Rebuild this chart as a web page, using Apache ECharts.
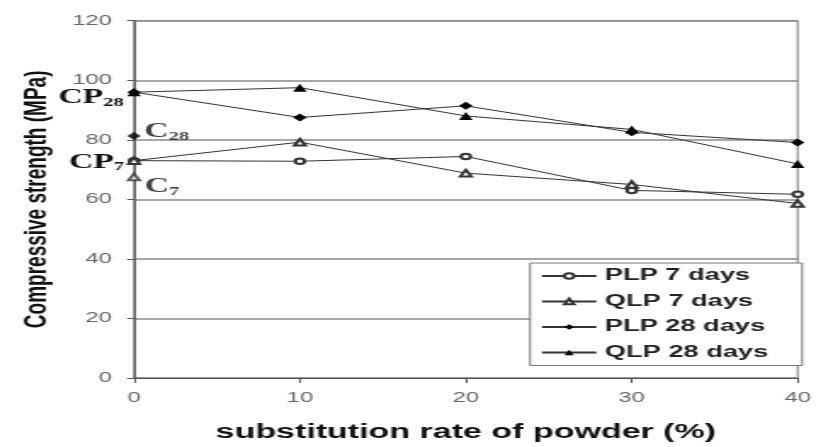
<!DOCTYPE html>
<html>
<head>
<meta charset="utf-8">
<script src="https://cdn.jsdelivr.net/npm/echarts@6/dist/echarts.min.js"></script>
<style>
  html, body { margin: 0; padding: 0; background: #fff; overflow: hidden; }
  #wrap { width: 816px; height: 447px; overflow: hidden; }
  #chart { width: 480px; height: 447px; transform: scaleX(1.7); transform-origin: 0 0; }
</style>
</head>
<body>
<div id="wrap"><div id="chart"></div></div>
<script>
// ---- data ----
const rates = [0, 10, 20, 30, 40];            // substitution rate of powder (%)
const plp7  = [73, 72.8, 74.4, 63, 61.7];     // PLP 7 days
const qlp7  = [73, 79.2, 68.8, 65, 58.6];     // QLP 7 days
const plp28 = [96, 87.5, 91.4, 82.5, 79.1];   // PLP 28 days
const qlp28 = [96, 97.5, 88, 83.5, 71.9];     // QLP 28 days
const c28 = 81.3;                             // control C28
const c7  = 67.5;                             // control C7
const seriesNames = ['PLP 7 days', 'QLP 7 days', 'PLP 28 days', 'QLP 28 days'];
const yMin = 0, yMax = 120, yStep = 20;
const xMin = 0, xMax = 40, xStep = 10;

const serif = 'Liberation Serif, Times New Roman, serif';
const sans = 'Liberation Sans, Arial, sans-serif';
function pairs(vals) { return rates.map((r, i) => [r, vals[i]]); }
function subLabel(main, sub, pos, offset) {
  return {
    show: true, position: pos, distance: 2, offset: offset,
    formatter: '{m|' + main + '}{s|' + sub + '}',
    rich: {
      m: { fontFamily: serif, fontWeight: 'bold', fontSize: 20, color: '#111' },
      s: { fontFamily: serif, fontWeight: 'bold', fontSize: 12, color: '#111', padding: [9, 0, 0, 0] }
    }
  };
}

const lineStyle = { color: '#333', width: 1 };
function withFirstLabel(vals, label) {
  const d = pairs(vals);
  d[0] = { value: d[0], label: label };
  return d;
}

const chart = echarts.init(document.getElementById('chart'));
chart.setOption({
  animation: false,
  backgroundColor: '#fff',
  grid: { left: 78.8, right: 8.8, top: 20.7, bottom: 66, show: true, borderColor: '#777', borderWidth: 1 },
  legend: {
    data: seriesNames,
    orient: 'vertical',
    left: 311.8, top: 263,
    width: 144,
    backgroundColor: '#fff',
    borderColor: '#777', borderWidth: 1,
    padding: [5, 20, 5, 6],
    itemWidth: 32, itemHeight: 7, itemGap: 9.5,
    textStyle: { fontFamily: sans, fontWeight: 'bold', fontSize: 16, color: '#222' }
  },
  xAxis: {
    type: 'value', min: xMin, max: xMax, interval: xStep,
    name: 'substitution rate of powder (%)',
    nameLocation: 'middle', nameGap: 44,
    nameTextStyle: { fontFamily: sans, fontWeight: 'bold', fontSize: 20, color: '#111' },
    axisLine: { lineStyle: { color: '#555', width: 1 } },
    axisTick: { show: true, length: 5, lineStyle: { color: '#555' } },
    axisLabel: { fontFamily: sans, fontSize: 14, color: '#666', margin: 13 },
    splitLine: { show: false }
  },
  yAxis: {
    type: 'value', min: yMin, max: yMax, interval: yStep,
    name: 'Compressive strength (MPa)',
    nameLocation: 'middle', nameGap: 48, nameRotate: 90,
    nameTextStyle: { fontFamily: sans, fontWeight: 'bold', fontSize: 19, color: '#111' },
    axisLine: { show: true, lineStyle: { color: '#555', width: 1 } },
    axisTick: { show: true, length: 4, lineStyle: { color: '#555' } },
    axisLabel: { fontFamily: sans, fontSize: 14, color: '#666', margin: 13 },
    splitLine: { show: true, lineStyle: { color: '#8a8a8a', width: 1.5 } }
  },
  series: [
    { name: seriesNames[0], type: 'line', data: withFirstLabel(plp7, subLabel('CP', '7', 'left', [0, 2])),
      symbol: 'emptyCircle', symbolSize: 5.5, lineStyle: lineStyle, itemStyle: { color: '#333', borderWidth: 1 }, z: 3 },
    { name: seriesNames[1], type: 'line', data: pairs(qlp7),
      symbol: 'emptyTriangle', symbolSize: 6.5, lineStyle: lineStyle, itemStyle: { color: '#333', borderWidth: 1 }, z: 3 },
    { name: seriesNames[2], type: 'line', data: withFirstLabel(plp28, subLabel('CP', '28', 'left', [0, 6])),
      symbol: 'diamond', symbolSize: 8, lineStyle: lineStyle, itemStyle: { color: '#000' }, z: 3 },
    { name: seriesNames[3], type: 'line', data: pairs(qlp28),
      symbol: 'triangle', symbolSize: 8, lineStyle: lineStyle, itemStyle: { color: '#000' }, z: 3 },
    { name: 'C28', type: 'scatter', data: [{ value: [0, c28], label: subLabel('C', '28', 'right', [0, -4]) }],
      symbol: 'diamond', symbolSize: 8, itemStyle: { color: '#000' }, z: 4 },
    { name: 'C7', type: 'scatter', data: [{ value: [0, c7], label: subLabel('C', '7', 'right', [0, 10]) }],
      symbol: 'emptyTriangle', symbolSize: 6.5, itemStyle: { color: '#333', borderWidth: 1 }, z: 4 }
  ]
});
</script>
</body>
</html>
